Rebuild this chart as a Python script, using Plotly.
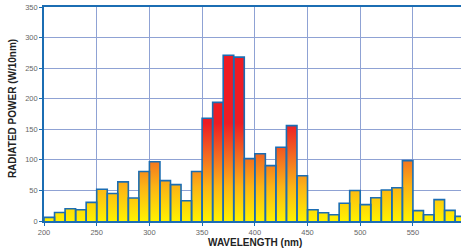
import plotly.graph_objects as go

bin_start = list(range(200, 600, 10))
power = [6, 14, 20, 18.5, 30.5, 52, 45, 64, 37.5, 81,
         97, 66, 59.5, 33, 81, 168, 194, 271, 268, 102,
         110, 90.6, 120.6, 156, 74, 18.5, 13.6, 10.3, 29, 50,
         26.7, 38, 50.7, 54.5, 98.8, 17, 10.3, 35, 17.3, 7.5]
x_ticks = [200, 250, 300, 350, 400, 450, 500, 550]
y_ticks = [0, 50, 100, 150, 200, 250, 300, 350]
bin_width = 10

# step outline for gradient fill
sx, sy = [], []
for s, v in zip(bin_start, power):
    sx += [s, s + bin_width]
    sy += [v, v]
sx = [bin_start[0]] + sx + [bin_start[-1] + bin_width]
sy = [0] + sy + [0]

# per-bar rectangle outlines
ox, oy = [], []
for s, v in zip(bin_start, power):
    ox += [s, s, s + bin_width, s + bin_width, None]
    oy += [0, v, v, 0, None]

axis_blue = "#1b6db3"
grid_blue = "#8fa2d4"

fig = go.Figure()
fig.add_trace(go.Scatter(
    x=sx, y=sy, mode="lines", line=dict(width=0), fill="tozeroy",
    fillgradient=dict(type="vertical", start=0, stop=160,
                      colorscale=[[0, "#fff200"], [0.35, "#fcb415"],
                                  [0.65, "#f36e21"], [1, "#ed1c24"]]),
    hoverinfo="skip", showlegend=False))
fig.add_trace(go.Scatter(
    x=ox, y=oy, mode="lines", line=dict(color=axis_blue, width=1.6),
    hoverinfo="skip", showlegend=False))

fig.update_layout(
    width=461, height=252,
    margin=dict(l=44, r=0, t=7, b=31),
    paper_bgcolor="white", plot_bgcolor="white",
    font=dict(family="Liberation Sans, Arial, sans-serif"),
    annotations=[
        dict(text="<b>WAVELENGTH (nm)</b>", xref="paper", yref="paper",
             x=0.506, y=-0.1, xanchor="center", yanchor="middle",
             showarrow=False, font=dict(size=10, color="#222222")),
        dict(text="<b>RADIATED POWER (W/10nm)</b>", xref="paper", yref="paper",
             x=-0.077, y=0.527, xanchor="center", yanchor="middle", textangle=-90,
             showarrow=False, font=dict(size=10, color="#222222")),
    ],
)
fig.update_xaxes(
    range=[200, 595.6], tickvals=x_ticks, ticktext=[str(v) for v in x_ticks],
    showgrid=True, gridcolor=grid_blue, gridwidth=1.2,
    showline=True, linecolor=axis_blue, linewidth=1.6, mirror=True,
    ticks="outside", ticklen=3, tickcolor=axis_blue, tickwidth=1.2,
    tickfont=dict(size=7.5, color="#666666"), zeroline=False, automargin=False,
)
fig.update_yaxes(
    range=[0, 350], tickvals=y_ticks, ticktext=[str(v) for v in y_ticks],
    showgrid=True, gridcolor=grid_blue, gridwidth=1.2,
    showline=True, linecolor=axis_blue, linewidth=1.6,
    ticks="outside", ticklen=3, tickcolor=axis_blue, tickwidth=1.2,
    tickfont=dict(size=7.5, color="#666666"), zeroline=False, automargin=False,
)

fig.write_html("out.html", config={"displayModeBar": False},
               post_script="document.body.style.margin='0';document.body.style.padding='0';")
